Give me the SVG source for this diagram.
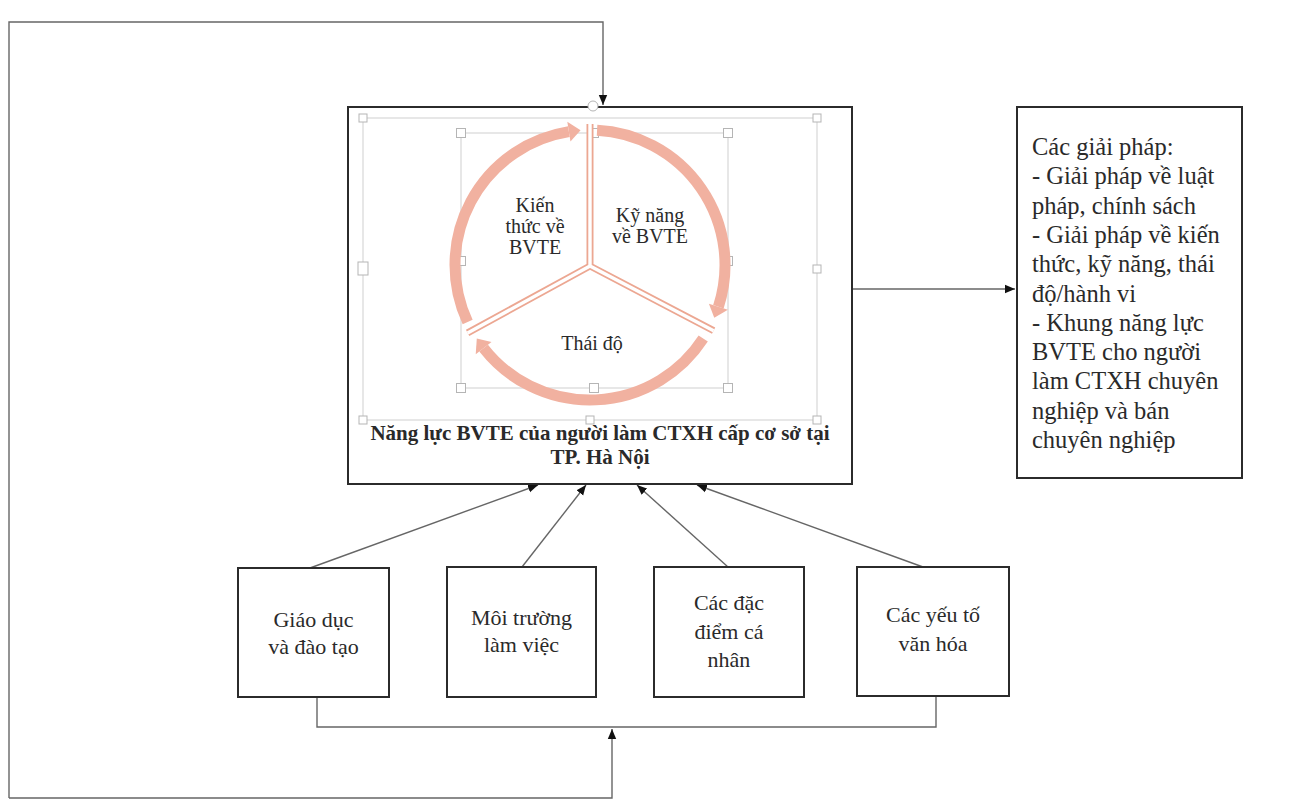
<svg xmlns="http://www.w3.org/2000/svg" width="1302" height="805" viewBox="0 0 1302 805">
<defs>
<marker id="ah" markerUnits="userSpaceOnUse" markerWidth="10" markerHeight="10" viewBox="0 0 10 10" refX="10" refY="5" orient="auto">
<path d="M0,0.8 L10,5 L0,9.2 Z" fill="#111"/>
</marker>
<style>
.box{fill:#fff;stroke:#2b2b2b;stroke-width:2}
.t{font-family:"Liberation Serif","Times New Roman",serif;fill:#2a2a2a}
.c{text-anchor:middle}
.con{fill:none;stroke:#666;stroke-width:1.4}
.sel{fill:none;stroke:#cfcfcf;stroke-width:1}
.h{fill:#fff;stroke:#b5b5b5;stroke-width:1}
.ring{fill:none;stroke:#f1b1a0;stroke-width:11}
.arr{fill:#f1b1a0}
.divo{fill:none;stroke:#eca792;stroke-width:7;stroke-linecap:butt}
.divi{fill:none;stroke:#fff;stroke-width:3.4}
</style>
</defs>
<rect width="1302" height="805" fill="#fff"/>

<g id="connectors">
<path class="con" d="M9,798 V22 H603 V105" marker-end="url(#ah)"/>
<path class="con" d="M9,798 H612 V729" marker-end="url(#ah)"/>
<path class="con" d="M317,697 V727 H936 V696"/>
<path class="con" d="M852,289 H1015" marker-end="url(#ah)"/>
<path class="con" d="M310,568 L538,485" marker-end="url(#ah)"/>
<path class="con" d="M522,567 L586,485" marker-end="url(#ah)"/>
<path class="con" d="M728,567 L637,485" marker-end="url(#ah)"/>
<path class="con" d="M923,567 L697,485" marker-end="url(#ah)"/>
</g>

<g id="main">
<rect class="box" x="348" y="107" width="504" height="377"/>
<g id="selection">
<rect class="sel" x="363" y="118" width="454" height="302"/>
<rect class="h" x="359" y="114" width="8" height="8"/>
<rect class="h" x="813" y="114" width="8" height="8"/>
<rect class="h" x="359" y="416" width="8" height="8"/>
<rect class="h" x="813" y="416" width="8" height="8"/>
<rect class="h" x="358" y="262" width="10" height="13"/>
<rect class="h" x="813" y="265" width="8" height="8"/>
<rect class="h" x="586" y="416" width="8" height="8"/>
<circle class="h" cx="593" cy="106" r="5"/>
<rect class="sel" x="461" y="133" width="267" height="255"/>
<rect class="h" x="456.5" y="128.5" width="9" height="9"/>
<rect class="h" x="723.5" y="128.5" width="9" height="9"/>
<rect class="h" x="456.5" y="383.5" width="9" height="9"/>
<rect class="h" x="723.5" y="383.5" width="9" height="9"/>
<rect class="h" x="589.5" y="128.5" width="9" height="9"/>
<rect class="h" x="589.5" y="383.5" width="9" height="9"/>
<rect class="h" x="456.5" y="256.5" width="9" height="9"/>
<rect class="h" x="723.5" y="256.5" width="9" height="9"/>
</g>
<g id="cycle">
<path class="ring" d="M467.65,322.05 A135,135 0 0 1 568.88,131.66"/>
<polygon class="arr" points="567.32,121.78 580.58,130.33 570.45,141.54"/>
<path class="ring" d="M597.06,130.19 A135,135 0 0 1 718.40,306.72"/>
<polygon class="arr" points="727.91,309.81 714.27,317.74 708.89,303.63"/>
<path class="ring" d="M703.22,338.52 A135,135 0 0 1 483.62,348.12"/>
<polygon class="arr" points="491.5,341.96 476.78,338.52 475.74,354.28"/>
<path class="divo" d="M590,124 V266 M590,266 L713.6,330.7 M590,266 L467.6,332.9"/>
<path class="divi" d="M590,124 V266 M590,266 L713.6,330.7 M590,266 L467.6,332.9"/>
<text class="t c" font-size="20" x="535" y="212">Kiến</text>
<text class="t c" font-size="20" x="535" y="233">thức về</text>
<text class="t c" font-size="20" x="535" y="254">BVTE</text>
<text class="t c" font-size="20" x="650" y="222">Kỹ năng</text>
<text class="t c" font-size="20" x="650" y="243">về BVTE</text>
<text class="t c" font-size="20" x="592" y="350">Thái độ</text>
</g>
<text class="t c" font-size="21" font-weight="bold" x="600" y="440">Năng lực BVTE của người làm CTXH cấp cơ sở tại</text>
<text class="t c" font-size="21" font-weight="bold" x="600" y="464">TP. Hà Nội</text>
</g>

<g id="solutions">
<rect class="box" x="1017" y="107" width="225" height="371"/>
<text class="t" font-size="24.5" x="1032">
<tspan x="1032" y="155">Các giải pháp:</tspan>
<tspan x="1032" y="184.3">- Giải pháp về luật</tspan>
<tspan x="1032" y="213.6">pháp, chính sách</tspan>
<tspan x="1032" y="242.9">- Giải pháp về kiến</tspan>
<tspan x="1032" y="272.2">thức, kỹ năng, thái</tspan>
<tspan x="1032" y="301.5">độ/hành vi</tspan>
<tspan x="1032" y="330.8">- Khung năng lực</tspan>
<tspan x="1032" y="360.1">BVTE cho người</tspan>
<tspan x="1032" y="389.4">làm CTXH chuyên</tspan>
<tspan x="1032" y="418.7">nghiệp và bán</tspan>
<tspan x="1032" y="448">chuyên nghiệp</tspan>
</text>
</g>

<g id="education">
<rect class="box" x="238" y="568" width="151" height="129"/>
<text class="t c" font-size="22" x="313.5" y="627">Giáo dục</text>
<text class="t c" font-size="22" x="313.5" y="654">và đào tạo</text>
</g>

<g id="workplace">
<rect class="box" x="447" y="567" width="149" height="130"/>
<text class="t c" font-size="22" x="521.5" y="625">Môi trường</text>
<text class="t c" font-size="22" x="521.5" y="652">làm việc</text>
</g>

<g id="personal">
<rect class="box" x="654" y="567" width="150" height="130"/>
<text class="t c" font-size="22" x="729" y="610">Các đặc</text>
<text class="t c" font-size="22" x="729" y="639">điểm cá</text>
<text class="t c" font-size="22" x="729" y="667">nhân</text>
</g>

<g id="culture">
<rect class="box" x="857" y="567" width="152" height="129"/>
<text class="t c" font-size="22" x="933" y="622">Các yếu tố</text>
<text class="t c" font-size="22" x="933" y="651">văn hóa</text>
</g>
</svg>
